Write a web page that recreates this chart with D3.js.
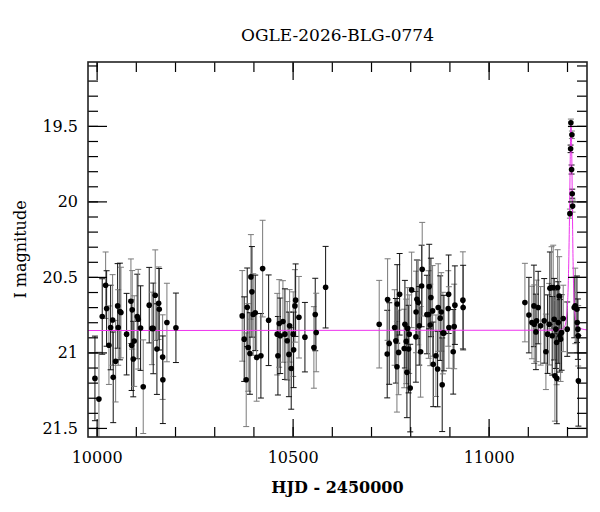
<!DOCTYPE html>
<html>
<head>
<meta charset="utf-8">
<script src="https://cdn.jsdelivr.net/npm/d3@7"></script>
<style>
  body { margin: 0; background: #fff; }
  svg text { font-family: "DejaVu Serif", serif; fill: #000; }
</style>
</head>
<body>
<div id="chart"></div>
<script>
// Photometry: HJD - 2450000, I magnitude, error
var hjd = [
  9995.7, 10005.9, 10014.3, 10023.0, 10025.5, 10031.4, 10035.7, 10040.8, 10042.3, 10048.5,
  10053.6, 10055.1, 10059.4, 10062.0, 10076.5, 10087.5, 10089.3, 10090.8, 10093.4, 10095.9,
  10103.6, 10106.1, 10112.2, 10118.9, 10134.2, 10141.1, 10144.4, 10149.5, 10153.8, 10158.2,
  10159.7, 10168.4, 10169.0, 10179.3, 10202.3,
  10371.4, 10376.5, 10381.6, 10384.2, 10386.7, 10391.1, 10393.6, 10396.2, 10399.5, 10404.6,
  10408.2, 10419.1, 10423.5, 10438.8, 10460.7, 10462.5, 10465.8, 10468.4, 10475.3, 10480.4,
  10486.2, 10490.6, 10492.3, 10496.4, 10501.5, 10502.6, 10505.9, 10507.7, 10516.1, 10531.4,
  10554.3, 10557.7, 10560.2, 10584.2,
  10720.9, 10741.3, 10742.3, 10746.4, 10760.2, 10763.5, 10766.1, 10766.8, 10770.4, 10773.0,
  10784.7, 10786.5, 10789.8, 10791.6, 10793.4, 10795.9, 10797.4, 10800.0, 10803.6, 10814.5,
  10815.0, 10817.1, 10820.4, 10823.0, 10826.5, 10829.1, 10830.6, 10842.6, 10846.9, 10848.5,
  10851.0, 10852.8, 10857.1, 10858.7, 10865.6, 10869.9, 10871.4, 10876.5, 10879.1, 10881.6,
  10883.4, 10886.0, 10897.0, 10898.0, 10898.7, 10909.7, 10912.2, 10914.0, 10934.4, 10935.0,
  11092.6, 11102.8, 11110.5, 11115.6, 11116.3, 11120.7, 11122.4, 11126.5, 11132.7, 11141.8,
  11146.2, 11150.5, 11154.6, 11156.4, 11160.7, 11162.2, 11164.8, 11167.3, 11169.1, 11171.7,
  11173.5, 11174.0, 11176.0, 11177.6, 11180.1, 11181.9, 11183.7, 11186.2, 11190.3, 11200.5,
  11207.4, 11209.2, 11209.9, 11211.7, 11212.5, 11213.3, 11214.3,
  11218.4, 11221.0, 11225.3, 11226.1, 11227.8, 11228.6, 11229.0
];
var imag = [
  21.172, 21.309, 20.762, 20.555, 20.709, 20.952, 20.835, 20.785, 21.165, 21.058,
  20.692, 20.835, 20.729, 20.736, 20.879, 20.661, 20.952, 20.718, 21.044, 20.925,
  20.762, 20.780, 20.839, 21.227, 20.687, 20.841, 20.841, 20.621, 20.978, 20.674,
  20.714, 21.031, 21.181, 20.802, 20.837,
  20.758, 20.912, 21.181, 20.701, 20.967, 21.007, 20.500, 20.599, 20.749, 20.738,
  21.033, 21.022, 20.445, 20.787, 20.879, 21.022, 20.808, 20.890, 20.795, 20.879,
  20.923, 21.013, 20.824, 21.106, 20.879, 20.983, 20.692, 20.654, 20.767, 20.899,
  20.967, 20.749, 20.868, 20.568,
  20.813, 21.011, 20.650, 20.941, 20.835, 20.923, 21.095, 20.679, 21.000, 20.615,
  20.974, 20.813, 20.927, 21.132, 20.841, 20.978, 20.879, 21.236, 20.586, 20.897,
  20.732, 20.648, 20.670, 20.824, 20.996, 20.560, 20.449, 20.749, 20.749, 20.564,
  20.818, 20.636, 20.725, 21.079, 21.022, 21.110, 20.703, 20.773, 20.732, 21.214,
  20.872, 20.872, 20.709, 20.615, 20.835, 20.996, 20.828, 20.687, 20.654, 20.703,
  20.670, 20.753, 20.802, 20.692, 20.813, 20.864, 20.791, 20.703, 20.824, 20.791,
  20.996, 20.879, 20.813, 20.575, 20.570, 20.890, 20.570, 20.780, 21.155, 20.846,
  20.934, 21.172, 20.570, 20.802, 20.626, 20.890, 20.912, 20.868, 20.775, 20.846,
  20.081, 19.652, 19.480, 19.789, 19.559, 19.949, 20.031,
  20.703, 20.692, 20.714, 20.802, 20.846, 20.890, 21.188
];
var ierr = [
  0.28, 0.31, 0.25, 0.22, 0.25, 0.26, 0.28, 0.30, 0.30, 0.27,
  0.28, 0.25, 0.32, 0.30, 0.27, 0.28, 0.30, 0.26, 0.25, 0.30,
  0.28, 0.33, 0.28, 0.31, 0.25, 0.24, 0.30, 0.30, 0.30, 0.24,
  0.27, 0.28, 0.29, 0.26, 0.23,
  0.30, 0.28, 0.31, 0.26, 0.29, 0.27, 0.28, 0.30, 0.27, 0.25,
  0.29, 0.28, 0.32, 0.30, 0.27, 0.26, 0.29, 0.25, 0.27, 0.30,
  0.26, 0.28, 0.24, 0.27, 0.28, 0.25, 0.24, 0.24, 0.27, 0.23,
  0.27, 0.24, 0.26, 0.27,
  0.29, 0.29, 0.27, 0.27, 0.25, 0.28, 0.30, 0.26, 0.28, 0.27,
  0.26, 0.29, 0.28, 0.30, 0.27, 0.29, 0.26, 0.29, 0.25, 0.30,
  0.27, 0.26, 0.28, 0.26, 0.30, 0.27, 0.31, 0.26, 0.29, 0.28,
  0.27, 0.26, 0.30, 0.28, 0.27, 0.25, 0.29, 0.28, 0.26, 0.31,
  0.27, 0.25, 0.25, 0.26, 0.27, 0.28, 0.28, 0.26, 0.32, 0.28,
  0.26, 0.25, 0.24, 0.27, 0.26, 0.25, 0.27, 0.24, 0.26, 0.28,
  0.25, 0.26, 0.27, 0.24, 0.27, 0.26, 0.28, 0.27, 0.30, 0.26,
  0.28, 0.30, 0.25, 0.27, 0.26, 0.24, 0.28, 0.25, 0.22, 0.18,
  0.03, 0.025, 0.025, 0.03, 0.025, 0.03, 0.04,
  0.20, 0.25, 0.22, 0.20, 0.20, 0.20, 0.30
];

// Model curve
var modelHjd = [9978, 11150, 11182, 11194.6, 11200.5, 11204.1, 11206.6, 11208.2, 11209.9,
                11211.7, 11213.3, 11215.0, 11217.6, 11222.0, 11228.6, 11251];
var modelMag = [20.855, 20.853, 20.851, 20.824, 20.714, 20.449, 20.053, 19.722, 19.480,
                19.610, 19.941, 20.317, 20.626, 20.780, 20.835, 20.851];

var xMajorTicks = [10000, 10500, 11000];
var yMajorTicks = [19.5, 20, 20.5, 21, 21.5];

var title = 'OGLE-2026-BLG-0774';
var xTitle = 'HJD - 2450000';
var yTitle = 'I magnitude';

// Layout
var W = 600, H = 512;
var margin = {top: 62, right: 13, bottom: 75, left: 88},
    width = W - margin.left - margin.right,
    height = H - margin.top - margin.bottom;

var x = d3.scaleLinear().domain([9978, 11251]).range([0, width]);
var y = d3.scaleLinear().domain([19.077, 21.56]).range([0, height]);

var svg = d3.select('#chart').append('svg')
    .attr('width', W)
    .attr('height', H);

var g = svg.append('g')
    .attr('transform', 'translate(' + margin.left + ',' + margin.top + ')');

g.append('clipPath').attr('id', 'plotclip')
  .append('rect').attr('width', width).attr('height', height);

var plot = g.append('g').attr('clip-path', 'url(#plotclip)');

var points = hjd.map(function(d, i) {
    return {t: d, m: imag[i], e: ierr[i], i: i};
});

// Error bars
var bars = plot.selectAll('.ebar')
    .data(points)
  .enter().append('g')
    .attr('class', 'ebar')
    .attr('stroke', function(d) { return d.i % 2 ? '#7a7a7a' : '#111'; })
    .attr('stroke-width', 1);

bars.append('line')
    .attr('x1', function(d) { return x(d.t); })
    .attr('x2', function(d) { return x(d.t); })
    .attr('y1', function(d) { return y(d.m - d.e); })
    .attr('y2', function(d) { return y(d.m + d.e); });
bars.append('line')
    .attr('x1', function(d) { return x(d.t) - 3; })
    .attr('x2', function(d) { return x(d.t) + 3; })
    .attr('y1', function(d) { return y(d.m - d.e); })
    .attr('y2', function(d) { return y(d.m - d.e); });
bars.append('line')
    .attr('x1', function(d) { return x(d.t) - 3; })
    .attr('x2', function(d) { return x(d.t) + 3; })
    .attr('y1', function(d) { return y(d.m + d.e); })
    .attr('y2', function(d) { return y(d.m + d.e); });

// Model
var line = d3.line()
    .x(function(d, i) { return x(modelHjd[i]); })
    .y(function(d, i) { return y(modelMag[i]); })
    .curve(d3.curveMonotoneX);

plot.append('path')
    .datum(modelHjd)
    .attr('d', line)
    .attr('fill', 'none')
    .attr('stroke', '#ee33ee')
    .attr('stroke-width', 1);

// Points
plot.selectAll('.dot')
    .data(points)
  .enter().append('circle')
    .attr('class', 'dot')
    .attr('cx', function(d) { return x(d.t); })
    .attr('cy', function(d) { return y(d.m); })
    .attr('r', 2.8)
    .attr('fill', '#000');

// Axes: ticks pointing inward on all four sides
var xMinor = d3.range(10000, 11251, 100);
var yMinor = d3.range(19.1, 21.56, 0.1);

function styleAxis(sel) {
    sel.select('.domain').remove();
    sel.selectAll('line').attr('stroke', '#000').attr('stroke-width', 1.2);
    sel.selectAll('text').attr('font-size', 16).attr('font-family', '"DejaVu Serif", serif');
}

g.append('g').attr('transform', 'translate(0,' + height + ')')
    .call(d3.axisBottom(x).tickValues(xMinor).tickSize(-10).tickFormat(''))
    .call(styleAxis);
g.append('g').attr('transform', 'translate(0,' + height + ')')
    .call(d3.axisBottom(x).tickValues(xMajorTicks).tickSize(-18).tickPadding(14.5)
          .tickFormat(d3.format('d')))
    .call(styleAxis);
g.append('g')
    .call(d3.axisTop(x).tickValues(xMinor).tickSize(-10).tickFormat(''))
    .call(styleAxis);
g.append('g')
    .call(d3.axisTop(x).tickValues(xMajorTicks).tickSize(-18).tickFormat(''))
    .call(styleAxis);

g.append('g')
    .call(d3.axisLeft(y).tickValues(yMinor).tickSize(-10).tickFormat(''))
    .call(styleAxis);
g.append('g')
    .call(d3.axisLeft(y).tickValues(yMajorTicks).tickSize(-19).tickPadding(10)
          .tickFormat(d3.format('~g')))
    .call(styleAxis);
g.append('g').attr('transform', 'translate(' + width + ',0)')
    .call(d3.axisRight(y).tickValues(yMinor).tickSize(-10).tickFormat(''))
    .call(styleAxis);
g.append('g').attr('transform', 'translate(' + width + ',0)')
    .call(d3.axisRight(y).tickValues(yMajorTicks).tickSize(-19).tickFormat(''))
    .call(styleAxis);

// Frame
g.append('rect')
    .attr('width', width)
    .attr('height', height)
    .attr('fill', 'none')
    .attr('stroke', '#222')
    .attr('stroke-width', 1.6);

// Titles
svg.append('text')
    .attr('x', margin.left + width / 2)
    .attr('y', 41)
    .attr('text-anchor', 'middle')
    .attr('font-size', 17)
    .text(title);

svg.append('text')
    .attr('x', margin.left + width / 2)
    .attr('y', 493)
    .attr('text-anchor', 'middle')
    .attr('font-size', 16)
    .attr('font-weight', 'bold')
    .text(xTitle);

svg.append('text')
    .attr('transform', 'translate(26,' + (margin.top + height / 2) + ') rotate(-90)')
    .attr('text-anchor', 'middle')
    .attr('font-size', 16)
    .text(yTitle);
</script>
</body>
</html>
